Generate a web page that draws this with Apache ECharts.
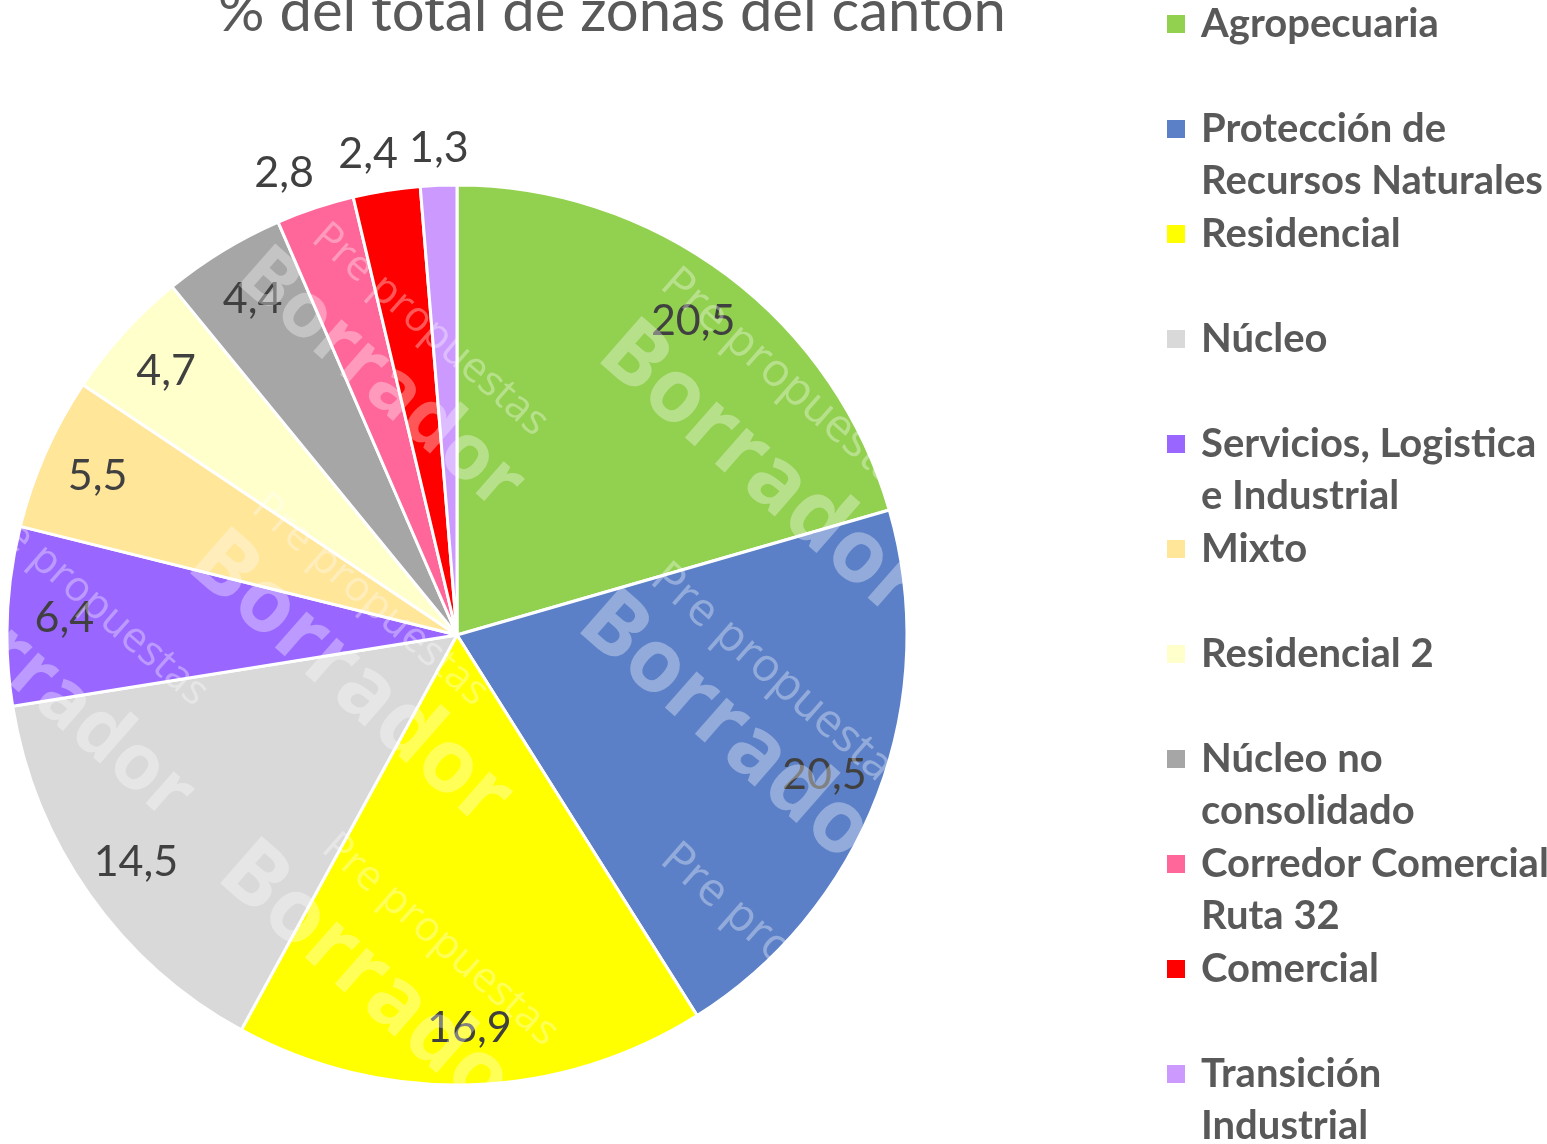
<!DOCTYPE html>
<html>
<head>
<meta charset="utf-8">
<script src="https://cdn.jsdelivr.net/npm/echarts@6/dist/echarts.min.js"></script>
<style>
  html, body { margin: 0; padding: 0; background: #fff; }
  #chart { width: 1547px; height: 1144px; }
</style>
</head>
<body>
<div id="chart"></div>
<script>
const categories = [
  "Agropecuaria",
  "Protección de Recursos Naturales",
  "Residencial",
  "Núcleo",
  "Servicios, Logistica e Industrial",
  "Mixto",
  "Residencial 2",
  "Núcleo no consolidado",
  "Corredor Comercial Ruta 32",
  "Comercial",
  "Transición Industrial",
];
const values = [20.5, 20.5, 16.9, 14.5, 6.4, 5.5, 4.7, 4.4, 2.8, 2.4, 1.3];
const colors = [
  "#92d050", "#5b80c8", "#ffff00", "#d9d9d9", "#9966ff", "#ffe699",
  "#ffffcc", "#a6a6a6", "#ff6699", "#ff0000", "#cc99ff",
];
const labelOutside = [false, false, false, false, false, false, false, false, true, true, true];
const legendText = {
  "Protección de Recursos Naturales": "Protección de\nRecursos Naturales",
  "Servicios, Logistica e Industrial": "Servicios, Logistica\ne Industrial",
  "Núcleo no consolidado": "Núcleo no\nconsolidado",
  "Corredor Comercial Ruta 32": "Corredor Comercial\nRuta 32",
  "Transición Industrial": "Transición\nIndustrial",
};

const chart = echarts.init(document.getElementById("chart"));
const center = [457, 635];
const textColor = "#595959";
// small nudges like Excel's best-fit placement for the crowded outside labels
const labelNudge = { 8: [-18, 4], 9: [-12, 4], 10: [2, 4] };

function fmtComma(v) {
  return String(v).replace(".", ",");
}

function labelRing(radius, outside) {
  return {
    type: "pie",
    center,
    radius,
    startAngle: 90,
    silent: true,
    avoidLabelOverlap: false,
    z: 5,
    itemStyle: { color: "rgba(0,0,0,0)", borderWidth: 0 },
    labelLine: { show: false },
    emphasis: { disabled: true },
    data: categories.map((name, i) => ({
      name,
      value: values[i],
      label: {
        show: labelOutside[i] === outside,
        position: "inside",
        formatter: fmtComma(values[i]),
        color: "#404040",
        fontSize: 43,
        fontFamily: "Lato",
        offset: labelNudge[i] || [0, 0],
      },
    })),
  };
}

const watermarks = [];
function addMark(text, x, y, size, bold) {
  watermarks.push({
    type: "text",
    x, y,
    rotation: -0.72,
    z: 10,
    style: {
      text,
      fill: "rgba(255,255,255,0.34)",
      font: `${bold ? "bold " : ""}${size}px "Open Sans"`,
      textAlign: "center",
      textVerticalAlign: "middle",
    },
  });
}
addMark("Borrador", 760, 470, 88, true);
addMark("Pre propuestas", 790, 385, 46, false);
addMark("Borrador", 740, 740, 88, true);
addMark("Pre propuestas", 780, 680, 46, false);
addMark("Borrador", 380, 380, 78, true);
addMark("Pre propuestas", 430, 330, 42, false);
addMark("Borrador", 350, 680, 88, true);
addMark("Pre propuestas", 370, 600, 42, false);
addMark("Borrador", 380, 990, 88, true);
addMark("Pre propuestas", 440, 940, 42, false);
addMark("Borrador", 50, 690, 78, true);
addMark("Pre propuestas", 90, 600, 42, false);
addMark("Pre propuestas", 790, 960, 46, false);

chart.setOption({
  animation: false,
  color: colors,
  graphic: [
    {
      type: "text",
      x: 612,
      y: 41,
      style: {
        text: "% del total de zonas del cantón",
        fill: textColor,
        font: '58px "Lato"',
        textAlign: "center",
        textVerticalAlign: "bottom",
      },
    },
    ...watermarks,
  ],
  legend: {
    orient: "vertical",
    left: 1165,
    top: -54,
    height: 1300,
    padding: 0,
    itemWidth: 20,
    itemHeight: 20,
    itemGap: -51,
    icon: "rect",
    data: categories,
    formatter: (name) => {
      const t = legendText[name];
      return t ? "\n" + t : "\n" + name + "\n ";
    },
    textStyle: {
      color: textColor,
      fontSize: 40,
      lineHeight: 52,
      fontWeight: "bold",
      fontFamily: "Lato",
      padding: [0, 0, 0, 10],
    },
  },
  series: [
    {
      type: "pie",
      center,
      radius: 450,
      startAngle: 90,
      avoidLabelOverlap: false,
      label: { show: false },
      labelLine: { show: false },
      itemStyle: { borderColor: "#fff", borderWidth: 3 },
      data: categories.map((name, i) => ({ name, value: values[i] })),
    },
    labelRing([330, 450], false),
    labelRing([440, 536], true),
  ],
});
</script>
</body>
</html>
